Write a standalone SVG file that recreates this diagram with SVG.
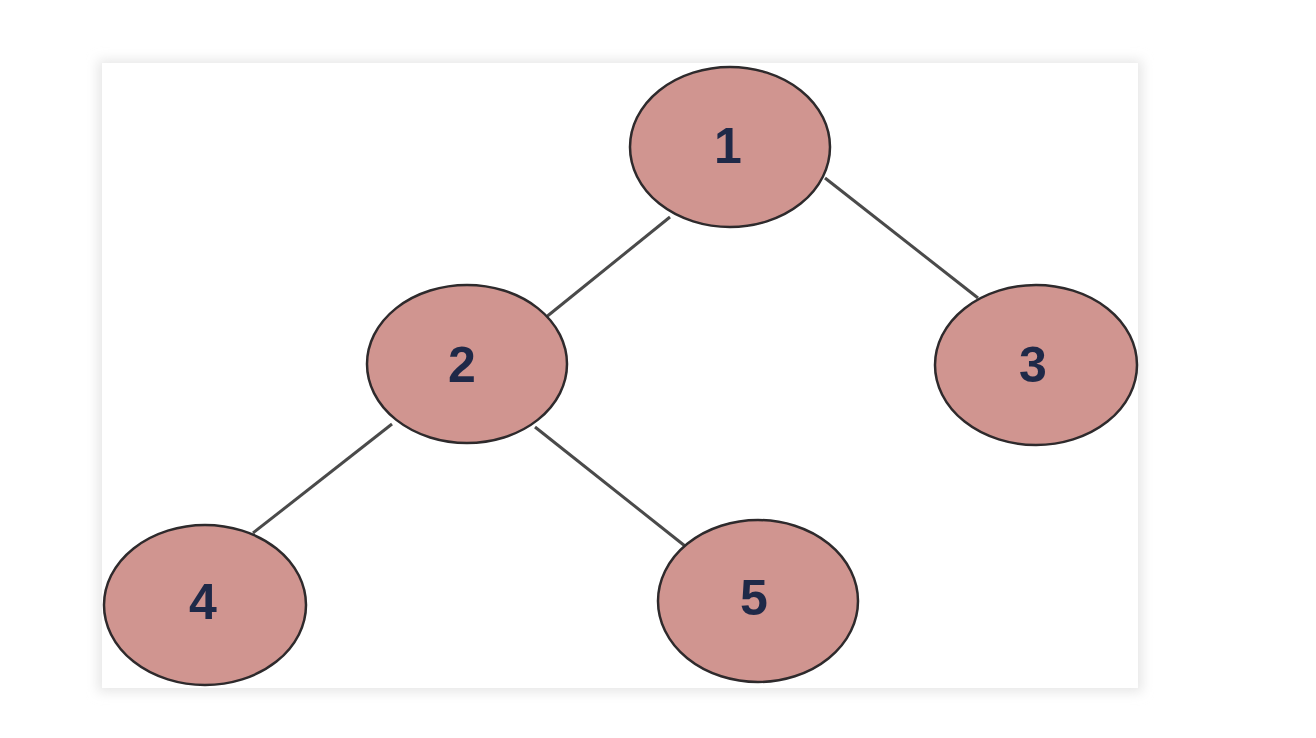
<svg xmlns="http://www.w3.org/2000/svg" width="1316" height="738" viewBox="0 0 1316 738">
  <defs>
    <filter id="soft" x="-10%" y="-10%" width="120%" height="120%">
      <feGaussianBlur stdDeviation="6"/>
    </filter>
  </defs>
  <style>
    .node { fill: #d09590; stroke: #2e2a2c; stroke-width: 2.5; }
    .label { font-family: "Liberation Sans", Arial, sans-serif; font-size: 50px; font-weight: bold; fill: #1f2948; text-anchor: middle; }
    .edge { stroke: #4a4a4a; stroke-width: 3; fill: none; }
  </style>

  <!-- page background and card -->
  <rect x="0" y="0" width="1316" height="738" fill="#ffffff"/>
  <rect x="98" y="60" width="1044" height="632" fill="#e6e6e6" filter="url(#soft)"/>
  <rect x="102" y="63" width="1036" height="625" fill="#ffffff"/>

  <!-- tree edges -->
  <g id="connectors">
    <line class="edge" x1="670" y1="217" x2="545" y2="318"/>
    <line class="edge" x1="825" y1="178" x2="978" y2="298"/>
    <line class="edge" x1="392" y1="424" x2="253" y2="533"/>
    <line class="edge" x1="535" y1="427" x2="685" y2="546"/>
  </g>

  <g id="node-1">
    <ellipse class="node" cx="730" cy="147" rx="100" ry="80"/>
    <text class="label" x="728" y="163">1</text>
  </g>
  <g id="node-2">
    <ellipse class="node" cx="467" cy="364" rx="100" ry="79"/>
    <text class="label" x="462" y="382">2</text>
  </g>
  <g id="node-3">
    <ellipse class="node" cx="1036" cy="365" rx="101" ry="80"/>
    <text class="label" x="1033" y="382">3</text>
  </g>
  <g id="node-4">
    <ellipse class="node" cx="205" cy="605" rx="101" ry="80"/>
    <text class="label" x="203" y="619">4</text>
  </g>
  <g id="node-5">
    <ellipse class="node" cx="758" cy="601" rx="100" ry="81"/>
    <text class="label" x="754" y="615">5</text>
  </g>
</svg>
